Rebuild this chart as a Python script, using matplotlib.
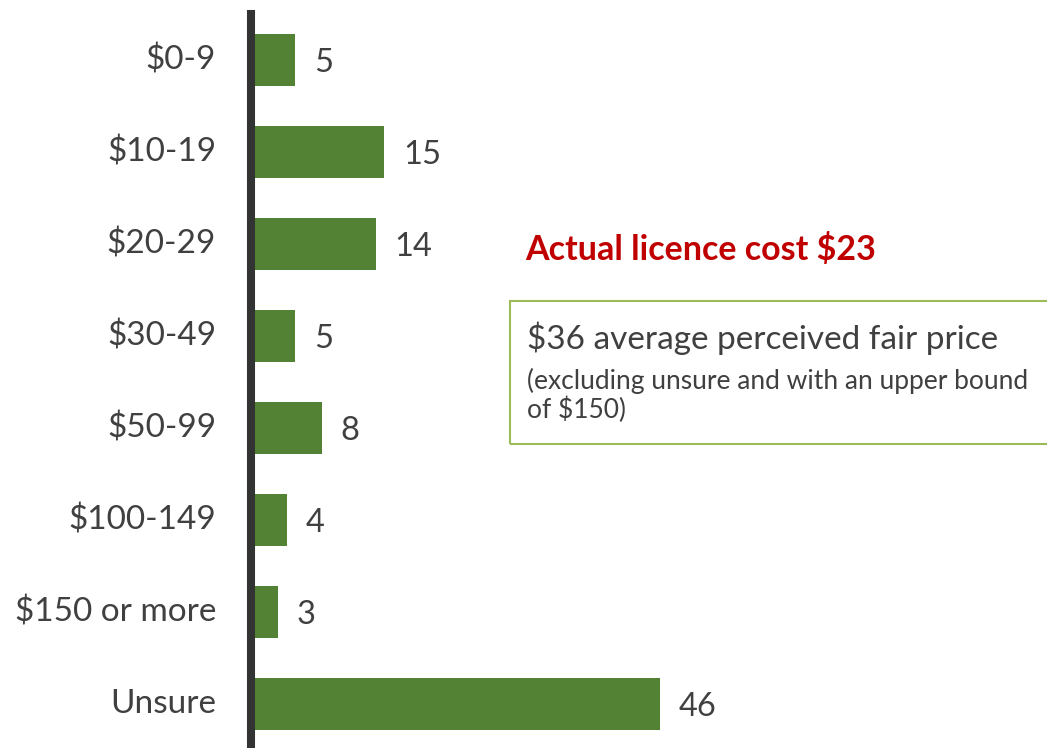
import matplotlib
matplotlib.use('Agg')
import matplotlib.pyplot as plt
from matplotlib.patches import Rectangle

# survey answers: perceived fair price for a licence (%)
categories = ['$0-9', '$10-19', '$20-29', '$30-49', '$50-99', '$100-149', '$150 or more', 'Unsure']
values = [5, 15, 14, 5, 8, 4, 3, 46]

actual_note = 'Actual licence cost $23'
box_title = '$36 average perceived fair price'
box_note = '(excluding unsure and with an upper bound\nof $150)'

plt.rcParams['font.family'] = ['Lato', 'DejaVu Sans']
txt_col = '#404040'

W, H = 1047, 748
fig = plt.figure(figsize=(W / 100, H / 100), dpi=100)
ax = fig.add_axes([251 / W, 0, (W - 251) / W, (H - 14) / H])

pos = list(range(len(categories)))
ax.barh(pos, values, height=0.57, color='#548235')
ax.set_ylim(7.48, -0.5)
ax.set_xlim(0, 89.5)

for i, v in zip(pos, values):
    ax.text(v + 2.1, i + 0.03, str(v), va='center', ha='left', fontsize=23.5, color=txt_col)

ax.set_yticks(pos)
ax.set_yticklabels(categories, fontsize=24, color=txt_col, va='center')
ax.tick_params(axis='y', length=0, pad=25)
ax.set_xticks([])
for s in ['top', 'right', 'bottom']:
    ax.spines[s].set_visible(False)
ax.spines['left'].set_linewidth(5.8)
ax.spines['left'].set_color('#333333')

# annotation on the right
fig.text(525 / W, 1 - 250 / H, actual_note, fontsize=24.5, fontweight='bold',
         color='#C00000', va='center', ha='left')
fig.patches.append(Rectangle((510 / W, 1 - 444 / H), 0.6, 143 / H, transform=fig.transFigure,
                             fill=False, edgecolor='#9BBB59', linewidth=1.5))
fig.text(527 / W, 1 - 338 / H, box_title, fontsize=24, color=txt_col, va='center', ha='left')
fig.text(527 / W, 1 - 368 / H, box_note, fontsize=19, color=txt_col, va='top', ha='left',
         linespacing=1.12)

fig.savefig('out.png', dpi=100)
